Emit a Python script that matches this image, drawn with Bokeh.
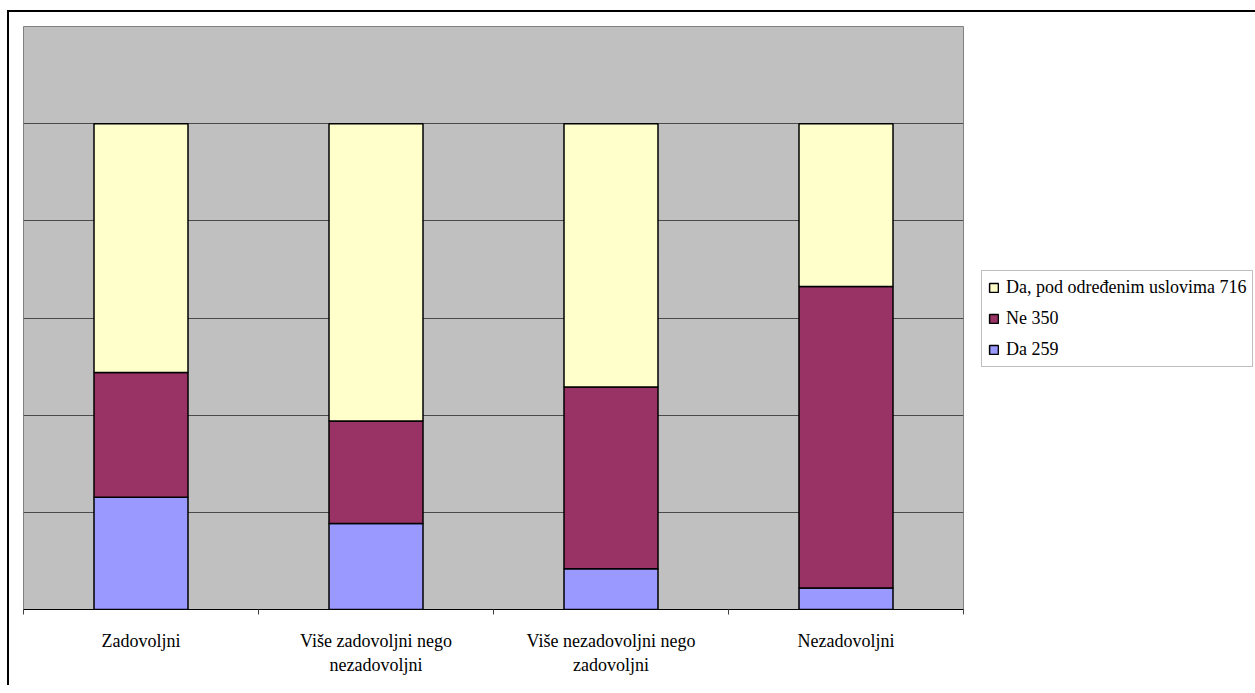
from bokeh.plotting import figure
from bokeh.models import Range1d, FixedTicker, Grid, Legend, LegendItem, ColumnDataSource
from bokeh.embed import file_html
from bokeh.resources import INLINE
import numpy as np

categories = ["Zadovoljni", "Više zadovoljni nego\nnezadovoljni",
              "Više nezadovoljni nego\nzadovoljni", "Nezadovoljni"]
series = ["Da 259", "Ne 350", "Da, pod određenim uslovima 716"]
da = [0.231, 0.177, 0.084, 0.044]
ne = [0.257, 0.211, 0.374, 0.621]
da_pod = [0.512, 0.612, 0.542, 0.335]
colors = ["#9999FF", "#993366", "#FFFFCC"]

x = np.arange(len(categories)) + 0.5
src = ColumnDataSource(dict(x=x, da=da, ne=ne, da_pod=da_pod))

FONT = "Liberation Serif"

p = figure(frame_width=940, frame_height=583, output_backend="svg", toolbar_location=None,
           x_range=Range1d(0, len(categories)), y_range=Range1d(0, 1.2),
           y_axis_location=None, min_border_left=14, min_border_top=14,
           min_border_right=290, min_border_bottom=76,
           background_fill_color="#C0C0C0", border_fill_color="white",
           outline_line_color="#808080", outline_line_width=1)
p.styles = {"border-top": "2px solid black", "border-left": "2px solid black",
            "margin-left": "7px", "margin-top": "10px"}

p.xgrid.visible = False
p.ygrid.visible = False
p.add_layout(Grid(dimension=1, ticker=FixedTicker(ticks=[0.2, 0.4, 0.6, 0.8, 1.0]),
                  grid_line_color="#4a4a4a", grid_line_width=1))

renderers = p.vbar_stack(["da", "ne", "da_pod"], x="x", width=0.4, source=src,
                         fill_color=colors, line_color="black", line_width=1.5)

ax = p.xaxis[0]
ax.ticker = FixedTicker(ticks=list(x), minor_ticks=list(range(len(categories) + 1)))
ax.major_label_overrides = {float(v): c for v, c in zip(x, categories)}
ax.major_tick_out = 0
ax.major_tick_in = 0
ax.minor_tick_out = 5
ax.minor_tick_in = 0
ax.minor_tick_line_color = "#404040"
ax.axis_line_color = "black"
ax.major_label_text_font = FONT
ax.major_label_text_font_size = "18px"
ax.major_label_text_color = "black"
ax.major_label_standoff = 16

legend = Legend(items=[LegendItem(label=series[2], renderers=[renderers[2]]),
                       LegendItem(label=series[1], renderers=[renderers[1]]),
                       LegendItem(label=series[0], renderers=[renderers[0]])],
                location=(18, 242), orientation="vertical",
                label_text_font=FONT, label_text_font_size="18px",
                label_text_color="black", glyph_width=11, glyph_height=11,
                label_height=18, spacing=10, padding=6, margin=0,
                border_line_color="#808080", border_line_width=1,
                label_standoff=7, background_fill_alpha=1)
p.add_layout(legend, "right")

open("out.html", "w").write(file_html(p, INLINE))
